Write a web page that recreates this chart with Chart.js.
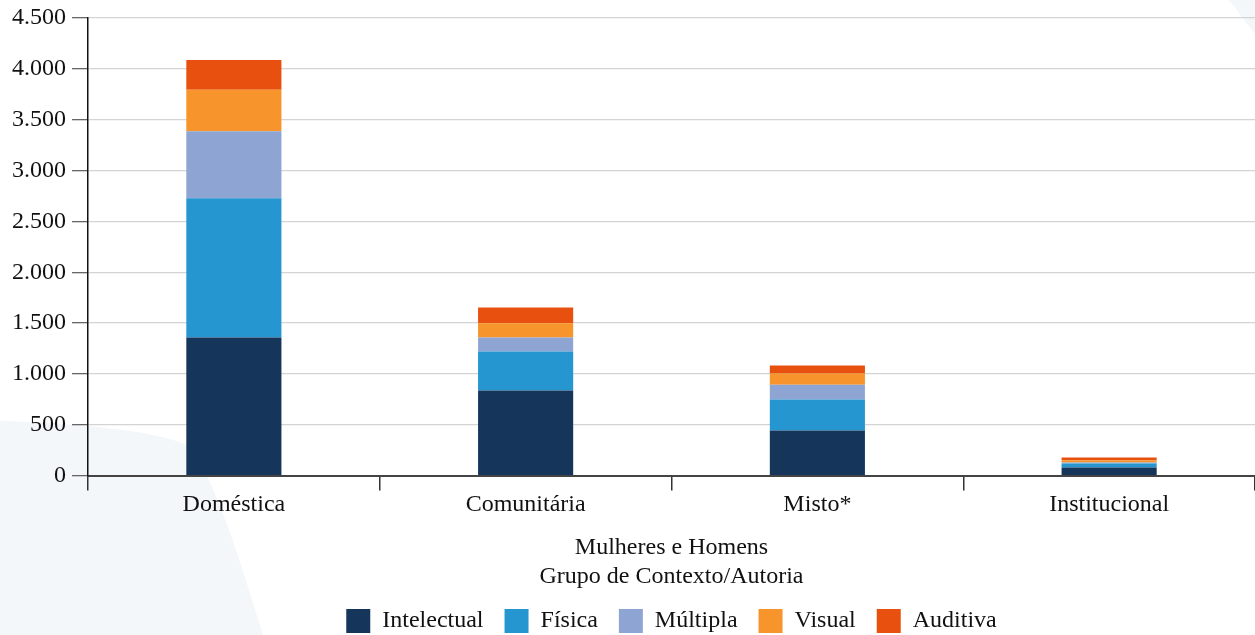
<!DOCTYPE html>
<html>
<head>
<meta charset="utf-8">
<script src="https://cdn.jsdelivr.net/npm/chart.js@4.4.1/dist/chart.umd.min.js"></script>
<style>
  html, body { margin: 0; padding: 0; background: #ffffff; }
  #wrap { width: 1255px; height: 635px; position: relative; }
</style>
</head>
<body>
<div id="wrap"><canvas id="c"></canvas></div>
<script>
const categories = ['Doméstica', 'Comunitária', 'Misto*', 'Institucional'];
const seriesNames = ['Intelectual', 'Física', 'Múltipla', 'Visual', 'Auditiva'];
const intelectual = [1359, 837, 443, 80];
const fisica      = [1369, 384, 305, 40];
const multipla    = [659, 138, 145, 10];
const visual      = [407, 138, 111, 22];
const auditiva    = [293, 157, 79, 25];
const seriesColors = ['#15355a', '#2596cf', '#8ea5d4', '#f7942b', '#e8500f'];
const yTickValues = [0, 500, 1000, 1500, 2000, 2500, 3000, 3500, 4000, 4500];
const xTitle = ['Mulheres e Homens', 'Grupo de Contexto/Autoria'];

const seriesData = [intelectual, fisica, multipla, visual, auditiva];
const FONT = "'Liberation Serif', 'Times New Roman', serif";

const bgShapes = {
  id: 'bgShapes',
  beforeDraw(chart) {
    const ctx = chart.ctx;
    ctx.save();
    ctx.fillStyle = '#f3f7fa';
    ctx.beginPath();
    ctx.moveTo(0, 421);
    ctx.bezierCurveTo(90, 424, 165, 432, 190, 447);
    ctx.bezierCurveTo(215, 480, 240, 560, 263, 635);
    ctx.lineTo(0, 635);
    ctx.closePath();
    ctx.fill();
    ctx.beginPath();
    ctx.moveTo(1229, 0);
    ctx.lineTo(1255, 0);
    ctx.lineTo(1255, 34);
    ctx.closePath();
    ctx.fill();
    ctx.restore();
  }
};

new Chart(document.getElementById('c'), {
  type: 'bar',
  data: {
    labels: categories,
    datasets: seriesNames.map((name, i) => ({
      label: name,
      data: seriesData[i],
      backgroundColor: seriesColors[i],
      borderWidth: 0,
      categoryPercentage: 1,
      barPercentage: 0.326
    }))
  },
  options: {
    responsive: true,
    maintainAspectRatio: false,
    animation: false,
    layout: { padding: { top: 6, right: 0, left: 6, bottom: -8 } },
    plugins: {
      tooltip: { enabled: false },
      legend: {
        position: 'bottom',
        fullSize: false,
        labels: {
          font: { family: FONT, size: 24 },
          color: '#111',
          boxWidth: 24,
          boxHeight: 24,
          padding: 21
        }
      }
    },
    scales: {
      x: {
        stacked: true,
        offset: true,
        grid: {
          offset: true,
          drawOnChartArea: false,
          drawTicks: true,
          tickLength: 15,
          color: '#333',
          lineWidth: 1.5
        },
        border: { color: '#444', width: 2 },
        ticks: {
          font: { family: FONT, size: 24 },
          color: '#111',
          padding: 0,
          maxRotation: 0
        },
        title: {
          display: true,
          text: xTitle,
          font: { family: FONT, size: 24 },
          color: '#111',
          padding: { top: 14, bottom: -3 }
        }
      },
      y: {
        stacked: true,
        min: 0,
        max: 4500,
        afterBuildTicks(axis) {
          axis.ticks = yTickValues.map(v => ({ value: v }));
        },
        grid: {
          color: '#d4d4d4',
          lineWidth: 1.3,
          tickLength: 16,
          tickColor: '#666'
        },
        border: { color: '#111', width: 1.5 },
        ticks: {
          font: { family: FONT, size: 24, lineHeight: 1 },
          color: '#111',
          padding: 6,
          callback: (v) => v.toLocaleString('pt-BR')
        }
      }
    }
  },
  plugins: [bgShapes]
});
</script>
</body>
</html>
